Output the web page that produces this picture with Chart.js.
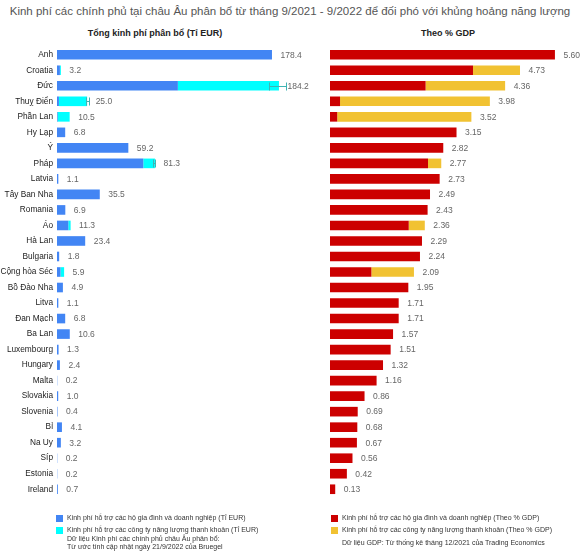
<!DOCTYPE html>
<html>
<head>
<meta charset="utf-8">
<script src="https://cdn.jsdelivr.net/npm/chart.js@4.4.0/dist/chart.umd.min.js"></script>
<style>
  body { margin:0; background:#fff; font-family:"Liberation Sans", Arial, sans-serif; }
  #wrap { position:relative; width:580px; height:560px; overflow:hidden; }
  canvas { position:absolute; top:0; }
  .t { position:absolute; white-space:nowrap; }
  .sq { position:absolute; width:7px; height:7px; }
  .lg { position:absolute; font-size:7px; color:#333; white-space:nowrap; line-height:8px; }
</style>
</head>
<body>
<div id="wrap">
  <div class="t" style="left:0;width:580px;top:5px;text-align:center;font-size:11.5px;color:#555">Kinh phí các chính phủ tại châu Âu phân bổ từ tháng 9/2021 - 9/2022 để đối phó với khủng hoảng năng lượng</div>
  <div class="t" style="left:55px;width:200px;top:28px;text-align:center;font-size:9px;font-weight:bold;color:#222">Tổng kinh phí phân bổ (Tỉ EUR)</div>
  <div class="t" style="left:348px;width:200px;top:28px;text-align:center;font-size:9px;font-weight:bold;color:#222">Theo % GDP</div>
  <canvas id="left" width="325" height="560" style="left:0"></canvas>
  <canvas id="right" width="280" height="560" style="left:300px"></canvas>

  <div class="sq" style="left:56px;top:515px;background:#4285f4"></div>
  <div class="lg" style="left:67px;top:514px">Kinh phí hỗ trợ các hộ gia đình và doanh nghiệp (Tỉ EUR)</div>
  <div class="sq" style="left:56px;top:527px;background:#00ffff"></div>
  <div class="lg" style="left:67px;top:526px">Kinh phí hỗ trợ các công ty năng lượng thanh khoản (Tỉ EUR)</div>
  <div class="lg" style="left:67px;top:535px">Dữ liệu Kinh phí các chính phủ châu Âu phân bổ:</div>
  <div class="lg" style="left:67px;top:543px">Từ ước tính cập nhật ngày 21/9/2022 của Bruegel</div>

  <div class="sq" style="left:331px;top:515px;background:#cc0000"></div>
  <div class="lg" style="left:342px;top:514px">Kinh phí hỗ trợ các hộ gia đình và doanh nghiệp (Theo % GDP)</div>
  <div class="sq" style="left:331px;top:527px;background:#f1c232"></div>
  <div class="lg" style="left:342px;top:526px">Kinh phí hỗ trợ các công ty năng lượng thanh khoản (Theo % GDP)</div>
  <div class="lg" style="left:342px;top:539px">Dữ liệu GDP: Từ thống kê tháng 12/2021 của Trading Economics</div>
</div>
<script>
var countries = ['Anh','Croatia','Đức','Thuỵ Điển','Phần Lan','Hy Lạp','Ý','Pháp','Latvia','Tây Ban Nha',
  'Romania','Áo','Hà Lan','Bulgaria','Cộng hòa Séc','Bồ Đào Nha','Litva','Đan Mạch','Ba Lan','Luxembourg',
  'Hungary','Malta','Slovakia','Slovenia','Bỉ','Na Uy','Síp','Estonia','Ireland']

// ti EUR
var householdEUR = [178.4,2.4,100.3,1.6,0.5,6.8,59.2,71.6,1.1,35.5,
  6.9,9.4,23.4,1.8,2.9,4.9,1.1,6.8,10.6,1.3,
  2.4,0.2,1.0,0.4,4.1,3.2,0.2,0.2,0.7]
var energyEUR = [0,0.8,83.9,23.4,10.0,0,0,9.7,0,0,
  0,1.9,0,0,3.0,0,0,0,0,0,
  0,0,0,0,0,0,0,0,0]
// error range (only a few countries)
var errLow  = [null,null,175.8,23.8,null,null,null,79.6,null,null,null,null,null,null,null,null,null,null,null,null,null,null,null,null,null,null,null,null,null]
var errHigh = [null,null,190.0,26.6,null,null,null,81.6,null,null,null,null,null,null,null,null,null,null,null,null,null,null,null,null,null,null,null,null,null]

// % GDP
var householdGDP = [5.60,3.56,2.38,0.25,0.18,3.15,2.82,2.44,2.73,2.49,
  2.43,1.96,2.29,2.24,1.03,1.95,1.71,1.71,1.57,1.51,
  1.32,1.16,0.86,0.69,0.68,0.67,0.56,0.42,0.13]
var energyGDP = [0,1.17,1.98,3.73,3.34,0,0,0.33,0,0,
  0,0.40,0,0,1.06,0,0,0,0,0,
  0,0,0,0,0,0,0,0,0]

Chart.defaults.font.family = '"Liberation Sans", Arial, sans-serif'
Chart.defaults.animation = false

function totalLabels(decimals){
  return {
    id:'totals',
    afterDatasetsDraw:function(chart){
      var ctx = chart.ctx
      var xs = chart.scales.x
      var m0 = chart.getDatasetMeta(0)
      var d0 = chart.data.datasets[0].data, d1 = chart.data.datasets[1].data
      ctx.save()
      ctx.font = '8.5px "Liberation Sans", Arial, sans-serif'
      ctx.fillStyle = '#666'
      ctx.textBaseline = 'middle'
      for (var i=0;i<d0.length;i++){
        var tot = d0[i]+d1[i]
        var x = xs.getPixelForValue(tot)
        var y = m0.data[i].y
        ctx.fillText(tot.toFixed(decimals), x+8.5, y+0.5)
      }
      ctx.restore()
    }
  }
}

var errorBars = {
  id:'errbars',
  afterDatasetsDraw:function(chart){
    var ctx = chart.ctx, xs = chart.scales.x
    var m0 = chart.getDatasetMeta(0)
    ctx.save()
    ctx.strokeStyle = '#3fb3b3'
    ctx.lineWidth = 1
    for (var i=0;i<errLow.length;i++){
      if (errLow[i]==null) continue
      var y = Math.round(m0.data[i].y)+0.5
      var x1 = Math.round(xs.getPixelForValue(errLow[i]))+0.5
      var x2 = Math.round(xs.getPixelForValue(errHigh[i]))+0.5
      ctx.beginPath()
      ctx.moveTo(x1,y); ctx.lineTo(x2,y)
      ctx.moveTo(x1,y-4); ctx.lineTo(x1,y+4)
      ctx.moveTo(x2,y-4); ctx.lineTo(x2,y+4)
      ctx.stroke()
    }
    ctx.restore()
  }
}

new Chart(document.getElementById('left'),{
  type:'bar',
  data:{
    labels:countries,
    datasets:[
      {label:'Kinh phí hỗ trợ các hộ gia đình và doanh nghiệp (Tỉ EUR)', data:householdEUR, backgroundColor:'#4285f4', barPercentage:0.62, categoryPercentage:1},
      {label:'Kinh phí hỗ trợ các công ty năng lượng thanh khoản (Tỉ EUR)', data:energyEUR, backgroundColor:'#00ffff', barPercentage:0.62, categoryPercentage:1}
    ]
  },
  options:{
    indexAxis:'y',
    responsive:false,
    layout:{padding:{top:47, bottom:63, right:27, left:0}},
    plugins:{legend:{display:false}, tooltip:{enabled:false}},
    scales:{
      x:{stacked:true, display:false, min:0, max:200},
      y:{stacked:true,
         grid:{display:false, drawTicks:false}, border:{display:false},
         ticks:{color:'#222', font:{size:8.3}, padding:4, autoSkip:false},
         afterFit:function(s){ s.width = 57 }}
    }
  },
  plugins:[errorBars, totalLabels(1)]
})

new Chart(document.getElementById('right'),{
  type:'bar',
  data:{
    labels:countries,
    datasets:[
      {label:'Kinh phí hỗ trợ các hộ gia đình và doanh nghiệp (Theo % GDP)', data:householdGDP, backgroundColor:'#cc0000', barPercentage:0.62, categoryPercentage:1},
      {label:'Kinh phí hỗ trợ các công ty năng lượng thanh khoản (Theo % GDP)', data:energyGDP, backgroundColor:'#f1c232', barPercentage:0.62, categoryPercentage:1}
    ]
  },
  options:{
    indexAxis:'y',
    responsive:false,
    layout:{padding:{top:47, bottom:63, left:30, right:9}},
    plugins:{legend:{display:false}, tooltip:{enabled:false}},
    scales:{
      x:{stacked:true, display:false, min:0, max:6},
      y:{stacked:true, display:false}
    }
  },
  plugins:[totalLabels(2)]
})
</script>
</body>
</html>
